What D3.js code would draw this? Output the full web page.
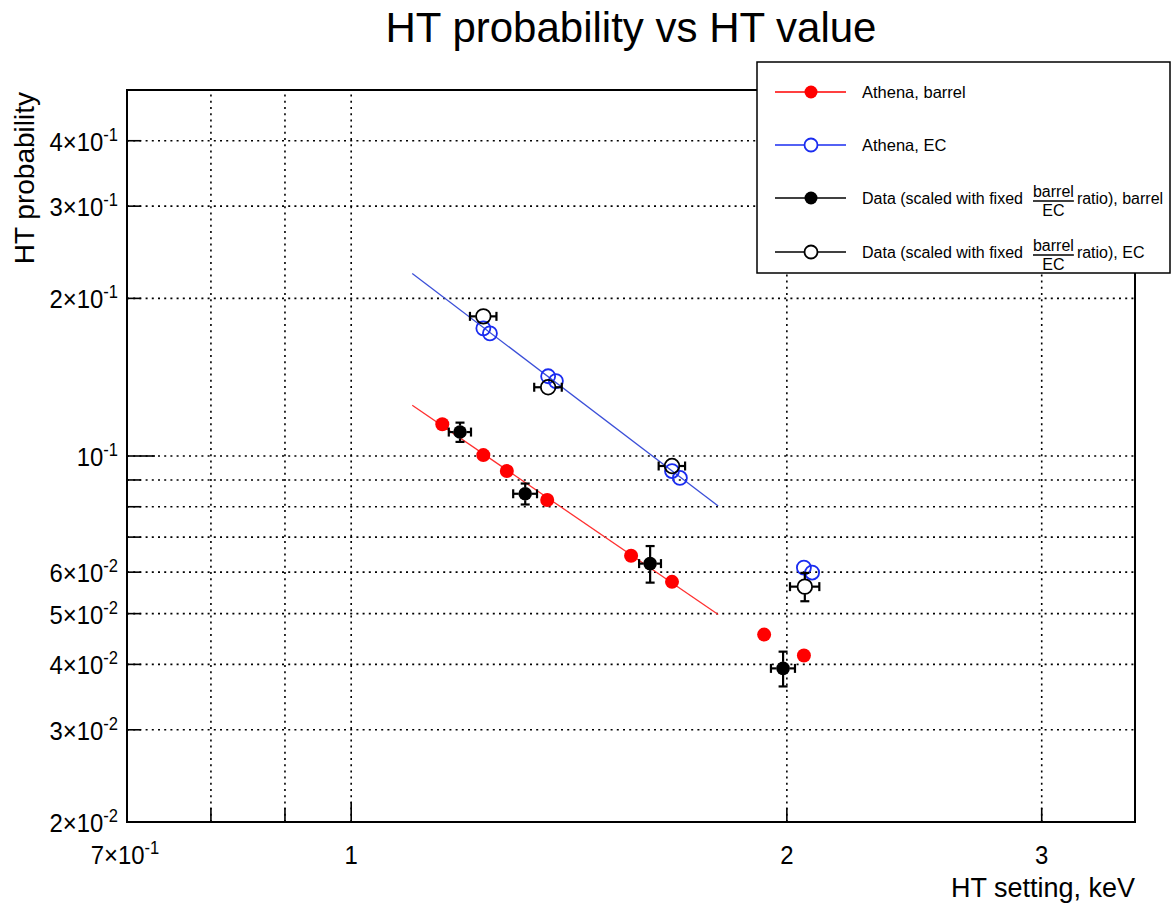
<!DOCTYPE html>
<html>
<head>
<meta charset="utf-8">
<script src="https://cdn.jsdelivr.net/npm/d3@7"></script>
<style>
  html, body { margin: 0; padding: 0; background: #fff; }
  svg { display: block; font-family: "Liberation Sans", Arial, Helvetica, sans-serif; }
</style>
</head>
<body>
<svg id="chart" width="1171" height="906"></svg>
<script>
// ---- data ----
// Athena simulation, barrel (filled red)
const athenaBarrelX = [1.156, 1.234, 1.281, 1.366, 1.561, 1.666, 1.929, 2.055];
const athenaBarrelY = [0.115, 0.1004, 0.0936, 0.0824, 0.0645, 0.0575, 0.0456, 0.0416];
// Athena simulation, end-cap (open blue)
const athenaECX = [1.234, 1.247, 1.368, 1.385, 1.666, 1.687, 2.055, 2.082];
const athenaECY = [0.1753, 0.1715, 0.142, 0.139, 0.0936, 0.0908, 0.0612, 0.0599];
// Data, barrel (filled black) with errors
const dataBarrelX = [1.189, 1.319, 1.609, 1.988];
const dataBarrelY = [0.1111, 0.0847, 0.0623, 0.0393];
const dataBarrelXErr = [0.021, 0.025, 0.028, 0.038];
const dataBarrelYErr = [0.0047, 0.0039, 0.005, 0.003];
// Data, end-cap (open black) with errors
const dataECX = [1.234, 1.368, 1.666, 2.058];
const dataECY = [0.1848, 0.1353, 0.0957, 0.0563];
const dataECXErr = [0.026, 0.030, 0.035, 0.048];
const dataECYErr = [0.004, 0.004, 0.003, 0.0035];
// Power-law fit segments (end points)
const barrelFitX = [1.102, 1.793];
const barrelFitY = [0.125, 0.0498];
const ecFitX = [1.102, 1.793];
const ecFitY = [0.2232, 0.0803];
// Axis ticks
const xGridTicks = [0.8, 0.9, 1, 2, 3];
const xLabelTicks = [
  { v: 0.7, m: "7", e: "-1" },
  { v: 1, m: "1", e: null },
  { v: 2, m: "2", e: null },
  { v: 3, m: "3", e: null }
];
const yGridTicks = [0.03, 0.04, 0.05, 0.06, 0.07, 0.08, 0.09, 0.1, 0.2, 0.3, 0.4];
const yLabelTicks = [
  { v: 0.02, m: "2", e: "-2" },
  { v: 0.03, m: "3", e: "-2" },
  { v: 0.04, m: "4", e: "-2" },
  { v: 0.05, m: "5", e: "-2" },
  { v: 0.06, m: "6", e: "-2" },
  { v: 0.1, m: null, e: "-1" },
  { v: 0.2, m: "2", e: "-1" },
  { v: 0.3, m: "3", e: "-1" },
  { v: 0.4, m: "4", e: "-1" }
];
const legendEntries = [
  { color: "#ff0000", fill: "#ff0000", line: "#ff0000", text: "Athena, barrel", frac: false },
  { color: "#1a2cf0", fill: "none", line: "#1a2cf0", text: "Athena, EC", frac: false },
  { color: "#000", fill: "#000", line: "#000", text: ", barrel", frac: true },
  { color: "#000", fill: "none", line: "#000", text: ", EC", frac: true }
];

// ---- layout ----
const L = 127, R = 1135, T = 90, B = 822;
const svg = d3.select("#chart");
const x = d3.scaleLog().domain([0.7, 3.48]).range([L, R]);
const y = d3.scaleLog().domain([0.02, 0.5]).range([B, T]);

const zip = (xs, ys) => xs.map((v, i) => ({ x: v, y: ys[i], i }));

// grid
const grid = svg.append("g").attr("stroke", "#000").attr("stroke-width", 1.6)
  .attr("stroke-dasharray", "2,4.2");
grid.selectAll("line.gx").data(xGridTicks).join("line")
  .attr("x1", d => x(d)).attr("x2", d => x(d)).attr("y1", B).attr("y2", T);
grid.selectAll("line.gy").data(yGridTicks).join("line")
  .attr("x1", L).attr("x2", R).attr("y1", d => y(d)).attr("y2", d => y(d));

// ticks
const ticks = svg.append("g").attr("stroke", "#000").attr("stroke-width", 1.6);
ticks.selectAll("line.ty").data(yGridTicks).join("line")
  .attr("x1", L).attr("x2", d => L + (d === 0.1 ? 28 : 14))
  .attr("y1", d => y(d)).attr("y2", d => y(d));
ticks.selectAll("line.tx").data(xGridTicks).join("line")
  .attr("x1", d => x(d)).attr("x2", d => x(d))
  .attr("y1", B).attr("y2", d => B - (d === 1 ? 20 : 14));

// fit lines
const line = d3.line().x(d => x(d.x)).y(d => y(d.y));
svg.append("path").datum(zip(barrelFitX, barrelFitY)).attr("d", line)
  .attr("fill", "none").attr("stroke", "#ff3030").attr("stroke-width", 1.3);
svg.append("path").datum(zip(ecFitX, ecFitY)).attr("d", line)
  .attr("fill", "none").attr("stroke", "#3b4fd8").attr("stroke-width", 1.3);

// error bars, drawn outside the marker
function errorBars(xs, ys, xe, ye, r) {
  const g = svg.append("g").attr("stroke", "#000").attr("stroke-width", 2.2);
  const cap = 4.5;
  xs.forEach((xv, i) => {
    const cx = x(xv), cy = y(ys[i]);
    const xl = x(xv - xe[i]), xr = x(xv + xe[i]);
    const yt = y(ys[i] + ye[i]), yb = y(ys[i] - ye[i]);
    if (cx - xl > r) {
      g.append("line").attr("x1", xl).attr("x2", cx - r).attr("y1", cy).attr("y2", cy);
      g.append("line").attr("x1", xl).attr("x2", xl).attr("y1", cy - cap).attr("y2", cy + cap);
    }
    if (xr - cx > r) {
      g.append("line").attr("x1", cx + r).attr("x2", xr).attr("y1", cy).attr("y2", cy);
      g.append("line").attr("x1", xr).attr("x2", xr).attr("y1", cy - cap).attr("y2", cy + cap);
    }
    if (cy - yt > r) {
      g.append("line").attr("x1", cx).attr("x2", cx).attr("y1", yt).attr("y2", cy - r);
      g.append("line").attr("x1", cx - cap).attr("x2", cx + cap).attr("y1", yt).attr("y2", yt);
    }
    if (yb - cy > r) {
      g.append("line").attr("x1", cx).attr("x2", cx).attr("y1", cy + r).attr("y2", yb);
      g.append("line").attr("x1", cx - cap).attr("x2", cx + cap).attr("y1", yb).attr("y2", yb);
    }
  });
}

// markers
svg.append("g").selectAll("circle").data(zip(athenaBarrelX, athenaBarrelY)).join("circle")
  .attr("cx", d => x(d.x)).attr("cy", d => y(d.y)).attr("r", 7).attr("fill", "#ff0000");
svg.append("g").selectAll("circle").data(zip(athenaECX, athenaECY)).join("circle")
  .attr("cx", d => x(d.x)).attr("cy", d => y(d.y)).attr("r", 7)
  .attr("fill", "none").attr("stroke", "#1a2cf0").attr("stroke-width", 1.8);

errorBars(dataBarrelX, dataBarrelY, dataBarrelXErr, dataBarrelYErr, 6.5);
svg.append("g").selectAll("circle").data(zip(dataBarrelX, dataBarrelY)).join("circle")
  .attr("cx", d => x(d.x)).attr("cy", d => y(d.y)).attr("r", 6.8).attr("fill", "#000");

errorBars(dataECX, dataECY, dataECXErr, dataECYErr, 7.5);
svg.append("g").selectAll("circle").data(zip(dataECX, dataECY)).join("circle")
  .attr("cx", d => x(d.x)).attr("cy", d => y(d.y)).attr("r", 7.3)
  .attr("fill", "none").attr("stroke", "#000").attr("stroke-width", 1.8);

// frame
svg.append("rect").attr("x", L).attr("y", T).attr("width", R - L).attr("height", B - T)
  .attr("fill", "none").attr("stroke", "#000").attr("stroke-width", 2);

// tick labels with exponent (slightly condensed face)
function powLabel(sel, d) {
  if (d.m !== null) {
    sel.append("tspan").text(d.e ? d.m + "\u00d710" : d.m);
  } else {
    sel.append("tspan").text("10");
  }
  if (d.e) sel.append("tspan").attr("dy", -10).attr("font-size", 18).text(d.e);
}
svg.append("g").selectAll("g").data(yLabelTicks).join("g")
  .attr("transform", d => `translate(118,${y(d.v) + 10}) scale(0.92,1)`)
  .append("text").attr("font-size", 26).attr("text-anchor", "end")
  .each(function(d) { powLabel(d3.select(this), d); });
svg.append("g").selectAll("g").data(xLabelTicks).join("g")
  .attr("transform", d => `translate(${x(d.v) + (d.e ? -2 : 0)},864) scale(0.92,1)`)
  .append("text").attr("font-size", 26).attr("text-anchor", "middle")
  .each(function(d) { powLabel(d3.select(this), d); });

// titles
svg.append("text").attr("x", 631).attr("y", 42).attr("text-anchor", "middle")
  .attr("font-size", 42).text("HT probability vs HT value");
svg.append("text").attr("x", 1135).attr("y", 897).attr("text-anchor", "end")
  .attr("font-size", 27).text("HT setting, keV");
svg.append("text").attr("transform", "translate(34,92) rotate(-90)")
  .attr("text-anchor", "end").attr("font-size", 28).text("HT probability");

// legend
const lg = svg.append("g");
lg.append("rect").attr("x", 757).attr("y", 62).attr("width", 413).attr("height", 211)
  .attr("fill", "#fff").attr("stroke", "#000").attr("stroke-width", 1.5);
const rowY = [92, 145, 198, 252];
legendEntries.forEach((e, i) => {
  const ry = rowY[i];
  lg.append("line").attr("x1", 775).attr("x2", 846).attr("y1", ry).attr("y2", ry)
    .attr("stroke", e.line).attr("stroke-width", 1.5);
  lg.append("circle").attr("cx", 811).attr("cy", ry).attr("r", 6.5)
    .attr("fill", e.fill === "none" ? "#fff" : e.fill)
    .attr("stroke", e.color).attr("stroke-width", e.fill === "none" ? 1.8 : 0);
  if (!e.frac) {
    lg.append("text").attr("x", 862).attr("y", ry + 6).attr("font-size", 16.5).text(e.text);
  } else {
    const t1 = lg.append("text").attr("x", 862).attr("y", ry + 6).attr("font-size", 16)
      .text("Data (scaled with fixed");
    const w1 = t1.node().getComputedTextLength();
    const fx = 862 + w1 + 10;
    const num = lg.append("text").attr("x", fx).attr("y", ry - 1).attr("font-size", 16).text("barrel");
    const wn = num.node().getComputedTextLength();
    lg.append("text").attr("x", fx + wn / 2).attr("y", ry + 18).attr("font-size", 16)
      .attr("text-anchor", "middle").text("EC");
    lg.append("line").attr("x1", fx).attr("x2", fx + wn).attr("y1", ry + 3).attr("y2", ry + 3)
      .attr("stroke", "#000").attr("stroke-width", 1.6);
    lg.append("text").attr("x", fx + wn + 3).attr("y", ry + 6).attr("font-size", 16)
      .text("ratio)" + e.text);
  }
});
</script>
</body>
</html>
